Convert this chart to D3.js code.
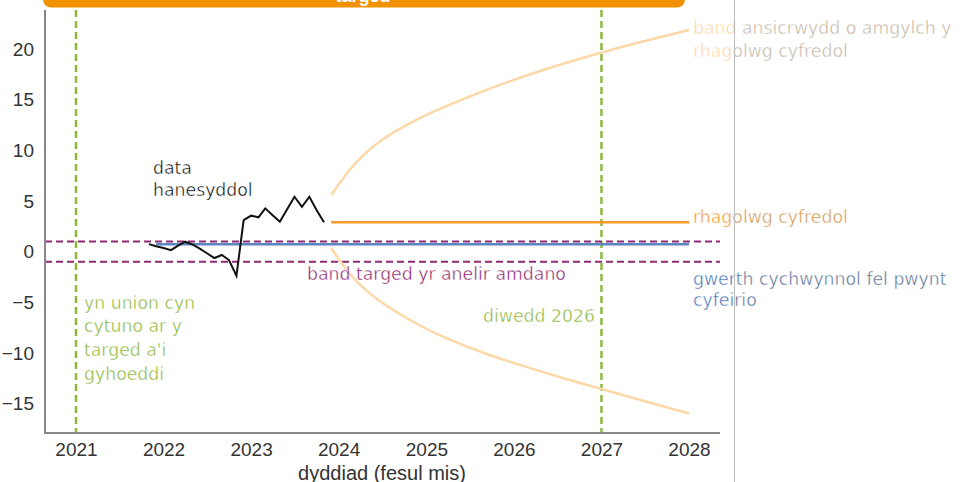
<!DOCTYPE html>
<html>
<head>
<meta charset="utf-8">
<script src="https://cdn.jsdelivr.net/npm/d3@7"></script>
<style>
  body { margin: 0; background: #fff; }
  svg { display: block; }
</style>
</head>
<body>
<svg id="chart" width="963" height="482"></svg>
<script>
// ---- data ----
const histMonths = ["2021-11","2021-12","2022-01","2022-02","2022-03","2022-04","2022-05","2022-06",
  "2022-07","2022-08","2022-09","2022-10","2022-11","2022-12","2023-01","2023-02","2023-03","2023-04",
  "2023-05","2023-06","2023-07","2023-08","2023-09","2023-10","2023-11"];
const histValues = [0.74, 0.54, 0.36, 0.15, 0.56, 0.98, 0.72, 0.30, -0.16, -0.63, -0.33, -0.83,
  -2.38, 3.12, 3.55, 3.39, 4.27, 3.60, 2.95, 4.21, 5.42, 4.43, 5.42, 4.12, 2.89];

const referenceMonths = ["2021-12", "2028-01"];
const referenceValue = 0.72;

const forecastMonths = ["2023-12", "2028-01"];
const forecastValue = 2.89;

const bandMonths = ["2023-12","2024-03","2024-07","2024-12","2025-04","2025-09","2026-01",
  "2026-06","2026-12","2027-06","2028-01"];
const bandUpper = [5.59, 8.45, 11.05, 13.13, 14.43, 15.89, 16.95, 18.15, 19.44, 20.61, 21.88];
const bandLower = [0.33, -2.55, -5.05, -7.24, -8.61, -10.03, -10.99, -12.10, -13.35, -14.57, -15.98];

const targetBand = [-1, 1];
const markerYears = [2021, 2027];
const yTicks = [-15, -10, -5, 0, 5, 10, 15, 20];
const xTickYears = [2021, 2022, 2023, 2024, 2025, 2026, 2027, 2028];

// ---- layout ----
const svg = d3.select("#chart");
const plot = { left: 45, right: 720, top: 10, bottom: 433 };
const divideX = 734.5;
const month = d3.timeParse("%Y-%m");
const yearDate = y => new Date(y, 0, 1);

const x = d3.scaleTime()
  .domain([yearDate(2021), yearDate(2028)])
  .range([76, 689]);
const y = d3.scaleLinear()
  .domain([-17.9, 23.85])
  .range([plot.bottom, plot.top]);

const tickFont = "'Liberation Sans', Arial, sans-serif";
const noteFont = "'DejaVu Sans', Verdana, sans-serif";

// vertical markers: start of 2021 and end of 2026
svg.append("g").selectAll("line").data(markerYears).join("line")
  .attr("x1", d => x(yearDate(d))).attr("x2", d => x(yearDate(d)))
  .attr("y1", plot.top).attr("y2", plot.bottom)
  .attr("stroke", "#8cb83c").attr("stroke-width", 2.5)
  .attr("stroke-dasharray", "7,4");

// target band edges
svg.append("g").selectAll("line").data(targetBand).join("line")
  .attr("x1", plot.left).attr("x2", plot.right)
  .attr("y1", d => y(d)).attr("y2", d => y(d))
  .attr("stroke", "#8e2a73").attr("stroke-width", 2)
  .attr("stroke-dasharray", "7,4");

// uncertainty band edges
const bandLine = d3.line().curve(d3.curveNatural)
  .x((d, i) => x(month(bandMonths[i]))).y(d => y(d));
[bandUpper, bandLower].forEach(vals => {
  svg.append("path").attr("d", bandLine(vals))
    .attr("fill", "none").attr("stroke", "#fcd8a8").attr("stroke-width", 2.5);
});

// reference value line
const flat = (months, v) => months.map(m => ({ date: month(m), value: v }));
const simpleLine = d3.line().x(d => x(d.date)).y(d => y(d.value));
svg.append("path").attr("d", simpleLine(flat(referenceMonths, referenceValue)))
  .attr("fill", "none").attr("stroke", "#5b86c2").attr("stroke-width", 2.5);

// central forecast
svg.append("path").attr("d", simpleLine(flat(forecastMonths, forecastValue)))
  .attr("fill", "none").attr("stroke", "#f39a2b").attr("stroke-width", 2.5);

// historical data
const hist = histMonths.map((m, i) => ({ date: month(m), value: histValues[i] }));
svg.append("path").attr("d", simpleLine(hist))
  .attr("fill", "none").attr("stroke", "#111").attr("stroke-width", 2)
  .attr("stroke-linejoin", "miter");

// axes
const yAxis = svg.append("g").attr("transform", `translate(${plot.left},0)`)
  .call(d3.axisLeft(y).tickValues(yTicks).tickSize(0).tickPadding(11));
yAxis.select(".domain").remove();
yAxis.selectAll("text").attr("font-family", tickFont).attr("font-size", 19).attr("fill", "#333");

const xAxis = svg.append("g").attr("transform", `translate(0,${plot.bottom})`)
  .call(d3.axisBottom(x).tickValues(xTickYears.map(yearDate)).tickFormat(d3.timeFormat("%Y"))
    .tickSize(0).tickPadding(10));
xAxis.select(".domain").remove();
xAxis.selectAll("text").attr("font-family", tickFont).attr("font-size", 19).attr("fill", "#333");

svg.append("line").attr("x1", plot.left).attr("x2", plot.left)
  .attr("y1", plot.top).attr("y2", plot.bottom + 1)
  .attr("stroke", "#888").attr("stroke-width", 2);
svg.append("line").attr("x1", plot.left).attr("x2", plot.right)
  .attr("y1", plot.bottom).attr("y2", plot.bottom)
  .attr("stroke", "#888").attr("stroke-width", 2);

svg.append("text").attr("x", 382).attr("y", 480)
  .attr("text-anchor", "middle").attr("font-family", tickFont).attr("font-size", 20)
  .attr("fill", "#333").text("dyddiad (fesul mis)");

// annotations
const notes = [
  { lines: ["data", "hanesyddol"], x: 153, y: 173.5, dy: 22, fill: "#000", dim: "#000" },
  { lines: ["band targed yr anelir amdano"], x: 307, y: 280, dy: 0, fill: "#861767", dim: "#861767" },
  { lines: ["yn union cyn", "cytuno ar y", "targed a'i", "gyhoeddi"], x: 84, y: 308.5, dy: 23.9,
    fill: "#86b232", dim: "#86b232" },
  { lines: ["diwedd 2026"], x: 595, y: 321.5, dy: 0, anchor: "end", fill: "#86b232", dim: "#86b232" },
  { lines: ["band ansicrwydd o amgylch y", "rhagolwg cyfredol"], x: 693, y: 33.5, dy: 23,
    fill: "#fbd5a2", dim: "#c2b4a2" },
  { lines: ["rhagolwg cyfredol"], x: 693, y: 223, dy: 0, fill: "#f29524", dim: "#cf964a" },
  { lines: ["gwerth cychwynnol fel pwynt", "cyfeirio"], x: 693, y: 284.5, dy: 21.5,
    fill: "#3f70b2", dim: "#566f94" }
];

const defs = svg.append("defs");
defs.append("clipPath").attr("id", "clip-left")
  .append("rect").attr("x", 0).attr("y", 0).attr("width", divideX).attr("height", 482);
defs.append("clipPath").attr("id", "clip-right")
  .append("rect").attr("x", divideX).attr("y", 0).attr("width", 963 - divideX).attr("height", 482);

[["clip-left", "fill"], ["clip-right", "dim"]].forEach(([clip, key]) => {
  const g = svg.append("g").attr("clip-path", `url(#${clip})`);
  notes.forEach(n => {
    // a hairline white outline keeps the lettering light
    const t = g.append("text")
      .attr("font-family", noteFont).attr("font-size", 17.3)
      .attr("fill", n[key]).attr("stroke", "#fff").attr("stroke-width", 0.45)
      .attr("text-anchor", n.anchor || "start");
    n.lines.forEach((line, i) => {
      t.append("tspan").attr("x", n.x).attr("y", n.y + i * n.dy).text(line);
    });
  });
});

// heading bar
svg.append("rect").attr("x", 43).attr("y", -20).attr("width", 642).attr("height", 27.5)
  .attr("rx", 8).attr("fill", "#f39200");
svg.append("text").attr("x", 363).attr("y", 2)
  .attr("text-anchor", "middle").attr("font-family", tickFont).attr("font-weight", "bold")
  .attr("font-size", 18).attr("fill", "#fff").text("targed");

// panel divider
svg.append("line").attr("x1", divideX).attr("x2", divideX).attr("y1", 0).attr("y2", 482)
  .attr("stroke", "#bdbdbd").attr("stroke-width", 1);
</script>
</body>
</html>
